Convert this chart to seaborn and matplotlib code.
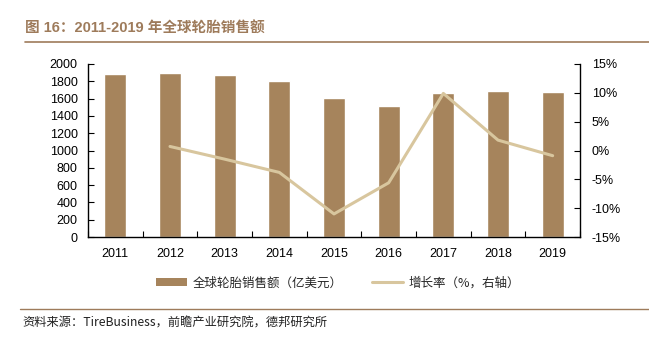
import matplotlib
matplotlib.use("Agg")
import matplotlib.pyplot as plt
import seaborn as sns
import numpy as np
import pandas as pd
from matplotlib.patches import Patch
from matplotlib.lines import Line2D
from matplotlib.ticker import FuncFormatter

years = ["2011", "2012", "2013", "2014", "2015", "2016", "2017", "2018", "2019"]
sales = [1885, 1900, 1875, 1805, 1605, 1510, 1665, 1690, 1680]
growth_years = ["2012", "2013", "2014", "2015", "2016", "2017", "2018", "2019"]
growth = [0.7, -1.5, -3.8, -11.0, -5.6, 9.9, 1.8, -0.9]

title = "图 16：2011-2019 年全球轮胎销售额"
legend_bar = "全球轮胎销售额（亿美元）"
legend_line = "增长率（%，右轴）"
source = "资料来源：TireBusiness，前瞻产业研究院，德邦研究所"

BAR = "#A6845C"
LINE = "#D8C69E"
BROWN = "#9E7B5B"

sns.set_theme(style="white")
plt.rcParams['font.family'] = ['Liberation Sans', 'Noto Sans CJK SC', 'DejaVu Sans']

fig = plt.figure(figsize=(6.49, 3.43), dpi=100)
ax = fig.add_axes([88/649, 1-237/343, (580-88)/649, (237-64)/343])

df = pd.DataFrame({"year": years, "sales": sales})
sns.barplot(data=df, x="year", y="sales", order=years, color=BAR, width=0.4,
            saturation=1, ax=ax)
ax.set_ylim(0, 2000)
ax.set_yticks(np.arange(0, 2001, 200))
ax.set_xlim(-0.5, len(years) - 0.5)
ax.set_xlabel("")
ax.set_ylabel("")

ax2 = ax.twinx()
gdf = pd.DataFrame({"year": growth_years, "growth": growth})
sns.pointplot(data=gdf, x="year", y="growth", order=years, color=LINE,
              markers="", linewidth=2.2, errorbar=None, ax=ax2)
ax2.set_ylim(-15, 15)
ax2.set_yticks(np.arange(-15, 16, 5))
ax2.yaxis.set_major_formatter(FuncFormatter(lambda v, p: f"{int(v)}%"))
ax2.set_xlim(-0.5, len(years) - 0.5)
ax2.set_xlabel("")
ax2.set_ylabel("")

for a in (ax, ax2):
    for s in a.spines.values():
        s.set_visible(False)
    a.grid(False)
ax.spines["left"].set_visible(True)
ax.spines["bottom"].set_visible(True)
ax2.spines["right"].set_visible(True)
for s in (ax.spines["left"], ax.spines["bottom"], ax2.spines["right"]):
    s.set_color("black")
    s.set_linewidth(1.0)

ax.tick_params(axis="y", direction="in", length=4, width=0.8, color="black",
               labelsize=9, pad=7.5, left=True)
ax2.tick_params(axis="y", direction="in", length=4, width=0.8, color="black",
                labelsize=9, pad=8.5, right=True)
# x ticks between categories
ax.set_xticks(np.arange(len(years)))
ax.set_xticklabels(years)
ax.tick_params(axis="x", which="major", length=0, labelsize=9, pad=8)
ax.set_xticks(np.arange(len(years) + 1) - 0.5, minor=True)
ax.tick_params(axis="x", which="minor", direction="in", length=4, width=0.8,
               color="black", bottom=True)
ax2.tick_params(axis="x", length=0)
for lbl in ax.get_yticklabels() + ax2.get_yticklabels() + ax.get_xticklabels():
    lbl.set_color("black")

# title and rules
fig.text(25/649, 1-28/343, title, fontsize=10.5, fontweight="bold", color=BROWN,
         va="center", ha="left", family=['Liberation Sans', 'Noto Sans CJK SC'])
fig.add_artist(Line2D([25/649, 1.0], [1-42/343, 1-42/343], color=BROWN, lw=1.2,
                      transform=fig.transFigure))
fig.add_artist(Line2D([20/649, 1.0], [1-309/343, 1-309/343], color=BROWN, lw=1.0,
                      transform=fig.transFigure))
fig.text(22/649, 1-323/343, source, fontsize=8.8, color="#222222", va="center",
         ha="left", family=['Noto Sans CJK SC', 'Liberation Sans'])

handles = [Patch(facecolor=BAR, edgecolor="none"),
           Line2D([0], [0], color=LINE, lw=2.2)]
leg = fig.legend(handles, [legend_bar, legend_line], loc="center",
                 bbox_to_anchor=(338/649, 1-283/343), ncol=2, frameon=False,
                 handlelength=2.5, handleheight=0.6,
                 handletextpad=0.45, columnspacing=2.3,
                 prop={'family': ['Noto Sans CJK SC', 'Liberation Sans'], 'size': 9})

fig.savefig("out.png", dpi=100)
